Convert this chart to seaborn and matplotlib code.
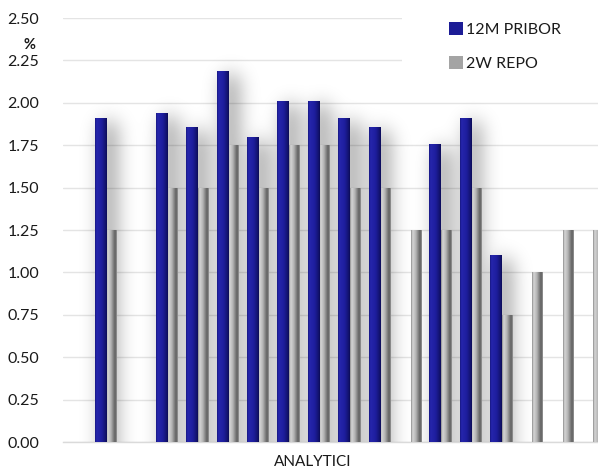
import numpy as np
import pandas as pd
import matplotlib
matplotlib.use("Agg")
import matplotlib.pyplot as plt
from matplotlib.colors import LinearSegmentedColormap
from matplotlib.patches import Rectangle
import seaborn as sns

# Forecasts of individual analysts (one group per analyst)
analysts = list(range(17))
pribor_12m = [1.91, None, 1.94, 1.86, 2.19, 1.80, 2.01, 2.01, 1.91, 1.86,
              None, 1.76, 1.91, 1.10, None, None, None]
repo_2w = [1.25, None, 1.50, 1.50, 1.75, 1.50, 1.75, 1.75, 1.50, 1.50,
           1.25, 1.25, 1.50, 0.75, 1.00, 1.25, 1.25]
yticks = [0.00, 0.25, 0.50, 0.75, 1.00, 1.25, 1.50, 1.75, 2.00, 2.25, 2.50]

series_names = ["12M PRIBOR", "2W REPO"]
blue = "#1c1c96"
grey = "#a4a4a4"

df_p = pd.DataFrame({"pos": np.array(analysts, float) - 0.17,
                     "val": pribor_12m}).dropna()
df_r = pd.DataFrame({"pos": np.array(analysts, float) + 0.18,
                     "val": repo_2w}).dropna()

sns.set_theme(style="white")
plt.rcParams["font.family"] = ["Lato", "DejaVu Sans"]

fig = plt.figure(figsize=(5.98, 4.69), dpi=100)
W, H = 598, 469
ax = fig.add_axes([63 / W, (H - 442) / H, 1 - 63 / W, (442 - 18) / H])

sns.barplot(data=df_r, x="pos", y="val", native_scale=True, width=0.33,
            color=grey, saturation=1, errorbar=None, label=series_names[1],
            linewidth=0, ax=ax, zorder=3)
sns.barplot(data=df_p, x="pos", y="val", native_scale=True, width=0.39,
            color=blue, saturation=1, errorbar=None, label=series_names[0],
            linewidth=0, ax=ax, zorder=4)

bars = [p for p in ax.patches if p.get_zorder() >= 3]

xlim = (-1.414, 16.18)
ylim = (0, 2.5)

# soft shadow cast to the right by the PRIBOR columns (blurred mask)
nx, ny = 535, 424
xs = np.linspace(xlim[0], xlim[1], nx)
ys = np.linspace(ylim[0], ylim[1], ny)
mask = np.zeros((ny, nx))
off = 8 * (xlim[1] - xlim[0]) / nx
for p in bars:
    if p.get_zorder() != 4:
        continue
    x0, w, h = p.get_x(), p.get_width(), p.get_height()
    cols = (xs >= x0 + off) & (xs <= x0 + w + off)
    rows = ys <= h - 0.03
    mask[np.ix_(rows, cols)] = 1.0


def blur(a, sigma):
    r = int(3 * sigma)
    k = np.exp(-0.5 * (np.arange(-r, r + 1) / sigma) ** 2)
    k /= k.sum()
    a = np.apply_along_axis(lambda v: np.convolve(v, k, mode="same"), 1, a)
    a = np.apply_along_axis(lambda v: np.convolve(v, k, mode="same"), 0, a)
    return a


pad = 40
padded = np.pad(mask, ((pad, 0), (0, 0)), mode="edge")
shadow = blur(padded, 10.0)[pad:]
shade = np.clip(0.52 * shadow, 0, 1)
rgba = np.zeros((ny, nx, 4))
rgba[..., 3] = shade
ax.imshow(rgba, extent=[xlim[0], xlim[1], ylim[0], ylim[1]], origin="lower",
          aspect="auto", zorder=1, interpolation="bilinear")

# cylinder-like shading on the columns
cm_blue = LinearSegmentedColormap.from_list(
    "b", [(0, "#161680"), (0.12, "#2626ac"), (0.55, "#1e1e9e"),
          (0.85, "#141474"), (1, "#0c0c58")])
cm_grey = LinearSegmentedColormap.from_list(
    "g", [(0, "#8c8c8c"), (0.15, "#d6d6d6"), (0.45, "#b4b4b4"),
          (0.7, "#7c7c7c"), (0.85, "#5e5e5e"), (1, "#9a9a9a")])
grad = np.linspace(0, 1, 64)[np.newaxis, :]
for p in bars:
    cmap = cm_grey if p.get_zorder() == 3 else cm_blue
    x0, w, h = p.get_x(), p.get_width(), p.get_height()
    im = ax.imshow(grad, extent=[x0, x0 + w, 0, h], aspect="auto",
                   cmap=cmap, zorder=p.get_zorder() + 0.1,
                   interpolation="bilinear")
    im.set_clip_path(p)

ax.set_xlim(*xlim)
ax.set_ylim(*ylim)
ax.set_yticks(yticks)
ax.set_yticklabels([f"{v:.2f}" for v in yticks], fontsize=11.5,
                   color="#1a1a1a")
ax.tick_params(axis="y", length=0, pad=17)
ax.set_xticks([])
ax.set_xlabel("")
ax.set_ylabel("")
ax.grid(axis="y", color="#e4e4e4", linewidth=1, zorder=0)
ax.set_axisbelow(True)
for s in ["top", "right", "left"]:
    ax.spines[s].set_visible(False)
ax.spines["bottom"].set_color("#dadada")
ax.spines["bottom"].set_linewidth(1)

# white legend panel in the upper right corner
ax.add_patch(Rectangle((402 / W, 1 - 85 / H), 1, 85 / H,
                       transform=fig.transFigure, facecolor="white",
                       edgecolor="none", zorder=0.8))

handles, labels = ax.get_legend_handles_labels()
order = [labels.index(n) for n in series_names]
leg = ax.legend([handles[i] for i in order], [labels[i] for i in order],
                loc="upper left", bbox_to_anchor=(449 / W, 1 - 22 / H),
                bbox_transform=fig.transFigure, frameon=False,
                fontsize=11.5, handlelength=0.9, handleheight=0.9,
                handletextpad=0.15, labelspacing=1.15, borderpad=0,
                borderaxespad=0)
leg.set_zorder(10)
for t in leg.get_texts():
    t.set_color("#1a1a1a")

fig.text(29 / W, 1 - 45 / H, "%", ha="center", va="center", fontsize=10.5,
         fontweight="bold", color="#1a1a1a")
fig.text(313 / W, 1 - 462 / H, "ANALYTICI", ha="center", va="center",
         fontsize=11, color="#1a1a1a")

fig.savefig("out.png", dpi=100)
